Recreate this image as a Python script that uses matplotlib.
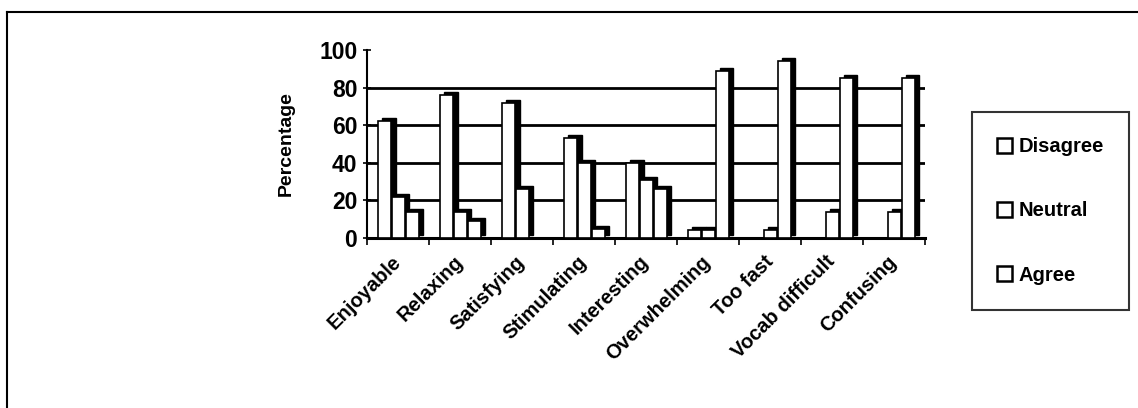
import numpy as np
import matplotlib
matplotlib.use("Agg")
import matplotlib.pyplot as plt
from matplotlib.patches import Patch
from matplotlib.lines import Line2D

# Data
categories = ['Enjoyable', 'Relaxing', 'Satisfying', 'Stimulating', 'Interesting',
              'Overwhelming', 'Too fast', 'Vocab difficult', 'Confusing']
disagree = [62, 76, 72, 53, 40, 4, 0, 0, 0]
neutral = [22, 14, 26, 40, 31, 4, 4, 14, 14]
agree = [14, 9, 0, 5, 26, 89, 94, 85, 85]
series_names = ['Disagree', 'Neutral', 'Agree']
yticks = [0, 20, 40, 60, 80, 100]

plt.rcParams['font.family'] = ['Liberation Sans', 'DejaVu Sans']
plt.rcParams['font.weight'] = 'bold'

fig = plt.figure(figsize=(11.38, 4.08), dpi=100)
ax = fig.add_axes([0.3225, 0.4167, 0.8128 - 0.3225, 0.8775 - 0.4167])

x = np.arange(len(categories))
width = 0.22
offsets = [-0.225, 0.0, 0.225]
depth_x = 0.065   # 3D side face shift (category units)
depth_y = 1.6     # 3D top face shift (percentage units)

# back-wall gridlines
for g in yticks[1:-1]:
    ax.axhline(g, color='black', lw=2.0, zorder=1)

for vals, off in zip([disagree, neutral, agree], offsets):
    vals = np.array(vals, dtype=float)
    show = vals > 0
    # dark side/top face
    ax.bar(x[show] + off + 0.01 + depth_x, vals[show], width=width, bottom=depth_y,
           color='black', edgecolor='black', lw=1.0, zorder=2)
    # white front face
    ax.bar(x[show] + off + 0.01, vals[show], width=width,
           color='white', edgecolor='black', lw=1.2, zorder=3)

ax.set_xlim(-0.5, len(categories) - 0.5)
ax.set_ylim(0, 100)
ax.set_yticks(yticks)
ax.set_yticklabels([str(t) for t in yticks], fontsize=16.5, fontweight='bold')
ax.tick_params(axis='y', direction='inout', length=6, width=1.2, pad=4)

ax.set_xticks(x)
ax.set_xticklabels(categories, rotation=45, ha='right', va='center',
                   rotation_mode='anchor', fontsize=14.5, fontweight='bold')
ax.tick_params(axis='x', length=0, pad=15)
ax.set_xticks(np.arange(-0.5, len(categories)), minor=True)
ax.tick_params(axis='x', which='minor', direction='out', length=5, width=1.2)

for side in ['top', 'right']:
    ax.spines[side].set_visible(False)
ax.spines['left'].set_linewidth(1.5)
ax.spines['bottom'].set_linewidth(2.2)

ax.set_ylabel('Percentage', fontsize=14, fontweight='bold')
ax.yaxis.set_label_coords(-0.13, 0.5)

# legend
handles = [Patch(facecolor='white', edgecolor='black', lw=1.8) for _ in series_names]
leg = fig.legend(handles, series_names, loc='upper left',
                 bbox_to_anchor=(972 / 1138, 1 - 112 / 408),
                 fontsize=14.5, frameon=True, fancybox=False, borderpad=1.25,
                 labelspacing=2.25, handlelength=0.75, handleheight=0.75,
                 handletextpad=0.3, borderaxespad=0)
leg.get_frame().set_edgecolor('black')
leg.get_frame().set_linewidth(1.5)
for t in leg.get_texts():
    t.set_fontweight('bold')

# outer chart frame (left and top edges visible)
fig.add_artist(Line2D([7 / 1138, 7 / 1138], [0, 1 - 12 / 408], color='black', lw=1.5))
fig.add_artist(Line2D([7 / 1138, 1], [1 - 12 / 408, 1 - 12 / 408], color='black', lw=1.5))

fig.savefig('out.png', dpi=100)
